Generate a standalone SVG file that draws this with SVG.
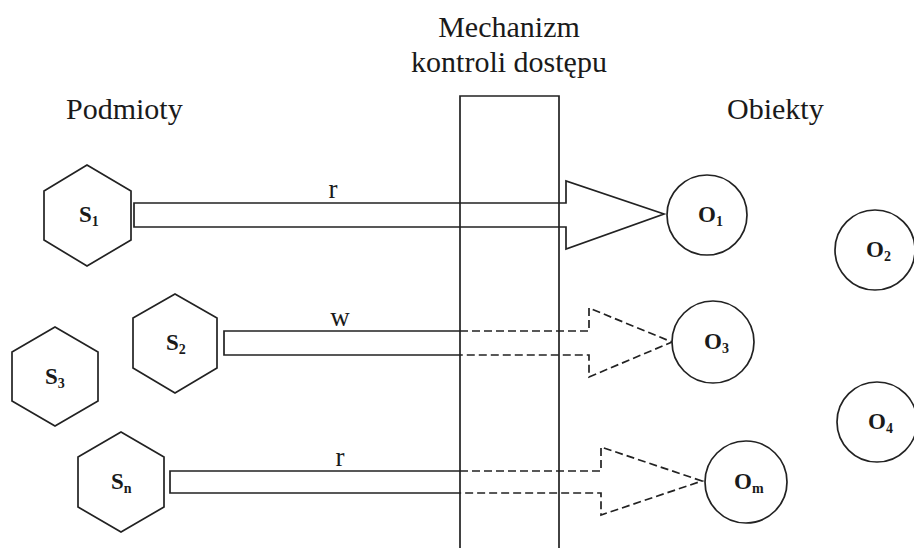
<svg xmlns="http://www.w3.org/2000/svg" width="914" height="548" viewBox="0 0 914 548">
  <style>
    .shape { fill: #fff; stroke: #222; stroke-width: 1.7; }
    .line { fill: none; stroke: #222; stroke-width: 1.7; }
    .dash { fill: none; stroke: #222; stroke-width: 1.7; stroke-dasharray: 8 4; }
    .title { font-family: "Liberation Serif", "Times New Roman", serif; font-size: 30px; fill: #1a1a1a; }
    .lbl { font-family: "Liberation Serif", "Times New Roman", serif; font-size: 23px; font-weight: bold; fill: #1a1a1a; }
    .sub { font-size: 14px; }
    .op { font-family: "Liberation Serif", "Times New Roman", serif; font-size: 27px; fill: #1a1a1a; }
  </style>
  <rect width="914" height="548" fill="#fff"/>

  <!-- headings -->
  <text class="title" x="66" y="119">Podmioty</text>
  <text class="title" x="727" y="119">Obiekty</text>
  <text class="title" x="509" y="37" text-anchor="middle">Mechanizm</text>
  <text class="title" x="509" y="72" text-anchor="middle">kontroli dostępu</text>

  <!-- access control barrier -->
  <g id="barrier">
    <polyline class="line" points="460,560 460,96 559,96 559,560"/>
  </g>

  <!-- requests -->
  <g id="connectors">
    <!-- granted read: S1 -> O1 -->
    <path class="line" d="M134,203 H566 V181 L664,214 L566,249 V227 H134 Z"/>
    <text class="op" x="333" y="198" text-anchor="middle">r</text>

    <!-- denied write: S2 -> O3 -->
    <path class="line" d="M460,331 H224 V355 H460"/>
    <path class="dash" d="M460,331 H589 V308 L672,342 L589,377 V355 H460"/>
    <text class="op" x="340" y="326" text-anchor="middle">w</text>

    <!-- denied read: Sn -> Om -->
    <path class="line" d="M460,471 H170 V493 H460"/>
    <path class="dash" d="M460,471 H601 V447 L702,481 L601,515 V493 H460"/>
    <text class="op" x="340" y="466" text-anchor="middle">r</text>
  </g>

  <!-- subjects -->
  <g id="s1">
    <polygon class="shape" points="87,165 131,191 131,240 87,266 44,240 44,191"/>
    <text class="lbl" x="79" y="222">S<tspan class="sub" dy="4">1</tspan></text>
  </g>
  <g id="s2">
    <polygon class="shape" points="175,294 217,318 217,368 175,393 133,368 133,318"/>
    <text class="lbl" x="166" y="350">S<tspan class="sub" dy="4">2</tspan></text>
  </g>
  <g id="s3">
    <polygon class="shape" points="55,327 98,352 98,401 55,426 12,401 12,352"/>
    <text class="lbl" x="45" y="384">S<tspan class="sub" dy="4">3</tspan></text>
  </g>
  <g id="sn">
    <polygon class="shape" points="121,432 164,457 164,507 121,532 78,507 78,457"/>
    <text class="lbl" x="111" y="489">S<tspan class="sub" dy="4">n</tspan></text>
  </g>

  <!-- objects -->
  <g id="o1">
    <circle class="shape" cx="707" cy="215" r="40"/>
    <text class="lbl" x="698" y="222">O<tspan class="sub" dy="4">1</tspan></text>
  </g>
  <g id="o2">
    <circle class="shape" cx="875" cy="250" r="40"/>
    <text class="lbl" x="866" y="257">O<tspan class="sub" dy="4">2</tspan></text>
  </g>
  <g id="o3">
    <circle class="shape" cx="713" cy="342" r="41"/>
    <text class="lbl" x="704" y="349">O<tspan class="sub" dy="4">3</tspan></text>
  </g>
  <g id="o4">
    <circle class="shape" cx="877" cy="422" r="40"/>
    <text class="lbl" x="868" y="429">O<tspan class="sub" dy="4">4</tspan></text>
  </g>
  <g id="om">
    <circle class="shape" cx="746" cy="482" r="41"/>
    <text class="lbl" x="734" y="489">O<tspan class="sub" dy="4">m</tspan></text>
  </g>
</svg>
